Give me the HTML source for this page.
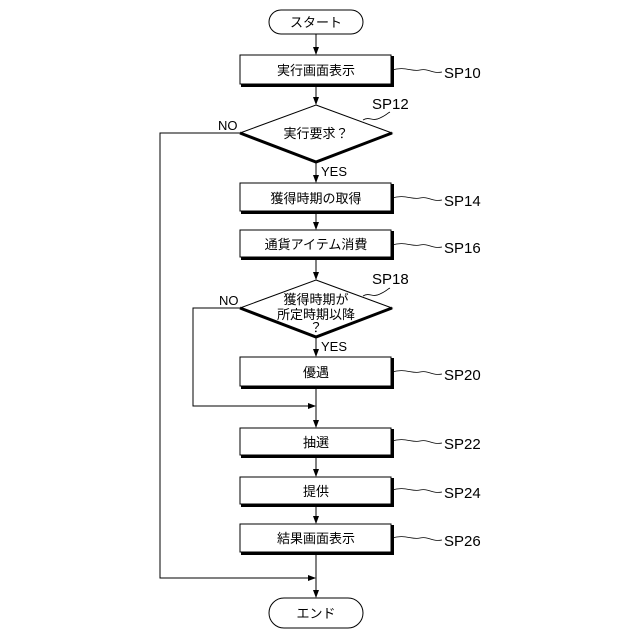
<!DOCTYPE html>
<html><head><meta charset="utf-8"><style>body{margin:0;background:#fff}svg{display:block}</style></head><body>
<svg width="640" height="640" viewBox="0 0 640 640" xmlns="http://www.w3.org/2000/svg" font-family="Liberation Sans, Noto Sans CJK JP, sans-serif">
<defs><marker id="a" markerWidth="8" markerHeight="8" refX="7" refY="4" orient="auto" markerUnits="userSpaceOnUse"><path d="M0,1 L8,4 L0,7 Z" fill="#000"/></marker></defs>
<g stroke="#000" fill="none" stroke-width="1">
<rect x="269" y="10" width="94" height="24" rx="12" fill="#fff"/>
<rect x="269" y="598" width="94" height="30" rx="15" fill="#fff"/>
<line x1="316" y1="34" x2="316" y2="54" marker-end="url(#a)"/>
<line x1="316" y1="85" x2="316" y2="104" marker-end="url(#a)"/>
<line x1="316" y1="163" x2="316" y2="182" marker-end="url(#a)"/>
<line x1="316" y1="212" x2="316" y2="229" marker-end="url(#a)"/>
<line x1="316" y1="258" x2="316" y2="279" marker-end="url(#a)"/>
<line x1="316" y1="338" x2="316" y2="356" marker-end="url(#a)"/>
<line x1="316" y1="387" x2="316" y2="427" marker-end="url(#a)"/>
<line x1="316" y1="456" x2="316" y2="476" marker-end="url(#a)"/>
<line x1="316" y1="505" x2="316" y2="523" marker-end="url(#a)"/>
<line x1="316" y1="553" x2="316" y2="597" marker-end="url(#a)"/>
<polyline points="240,133 160,133 160,578 315,578" marker-end="url(#a)"/>
<polyline points="240,308 193,308 193,406 315,406" marker-end="url(#a)"/>
</g>
<g stroke="#000" fill="#fff">
<g><rect x="240" y="55" width="151" height="29" stroke-width="1"/><path d="M241,85.5H392.5V56" fill="none" stroke-width="3"/></g>
<g><rect x="240" y="183" width="151" height="28" stroke-width="1"/><path d="M241,212.5H392.5V184" fill="none" stroke-width="3"/></g>
<g><rect x="240" y="230" width="151" height="27" stroke-width="1"/><path d="M241,258.5H392.5V231" fill="none" stroke-width="3"/></g>
<g><rect x="240" y="357" width="151" height="29" stroke-width="1"/><path d="M241,387.5H392.5V358" fill="none" stroke-width="3"/></g>
<g><rect x="240" y="428" width="151" height="27" stroke-width="1"/><path d="M241,456.5H392.5V429" fill="none" stroke-width="3"/></g>
<g><rect x="240" y="477" width="151" height="27" stroke-width="1"/><path d="M241,505.5H392.5V478" fill="none" stroke-width="3"/></g>
<g><rect x="240" y="524" width="151" height="28" stroke-width="1"/><path d="M241,553.5H392.5V525" fill="none" stroke-width="3"/></g>
<polygon points="316,105 392,133 316,162 240,133" stroke-width="1"/>
<path d="M240,133 L316,162 L392,133" fill="none" stroke-width="3"/>
<polygon points="316,280 392,308 316,337 240,308" stroke-width="1"/>
<path d="M240,308 L316,337 L392,308" fill="none" stroke-width="3"/>
</g>
<g stroke="#000" fill="none" stroke-width="0.8">
<path d="M392,70 C405,66 412,72 420,70 S432,74 442,72"/>
<path d="M392,198 C405,194 412,200 420,198 S432,202 442,200"/>
<path d="M392,245 C405,241 412,247 420,245 S432,249 442,247"/>
<path d="M392,372 C405,368 412,374 420,372 S432,376 442,374"/>
<path d="M392,441 C405,437 412,443 420,441 S432,445 442,443"/>
<path d="M392,490 C405,486 412,492 420,490 S432,494 442,492"/>
<path d="M392,538 C405,534 412,540 420,538 S432,542 442,540"/>
<path d="M363,120 C370,116 372,122 380,118 S386,114 390,112"/>
<path d="M363,296 C370,292 372,298 380,294 S386,290 390,288"/>
</g>
<g font-size="13" text-anchor="middle" fill="#000">
<text x="316" y="27">スタート</text>
<text x="316" y="75">実行画面表示</text>
<text x="316" y="138">実行要求？</text>
<text x="316" y="203">獲得時期の取得</text>
<text x="316" y="249">通貨アイテム消費</text>
<text x="316" y="304">獲得時期が</text>
<text x="316" y="319">所定時期以降</text>
<text x="316" y="332">？</text>
<text x="316" y="377">優遇</text>
<text x="316" y="447">抽選</text>
<text x="316" y="496">提供</text>
<text x="316" y="543">結果画面表示</text>
<text x="316" y="618">エンド</text>
</g>
<g font-size="15" fill="#000">
<text x="444" y="78">SP10</text>
<text x="372" y="109">SP12</text>
<text x="444" y="206">SP14</text>
<text x="444" y="253">SP16</text>
<text x="372" y="284">SP18</text>
<text x="444" y="380">SP20</text>
<text x="444" y="449">SP22</text>
<text x="444" y="498">SP24</text>
<text x="444" y="546">SP26</text>
</g>
<g font-size="13" fill="#000">
<text x="218" y="130">NO</text>
<text x="219" y="305">NO</text>
<text x="321" y="176">YES</text>
<text x="321" y="351">YES</text>
</g>
</svg>
</body></html>
